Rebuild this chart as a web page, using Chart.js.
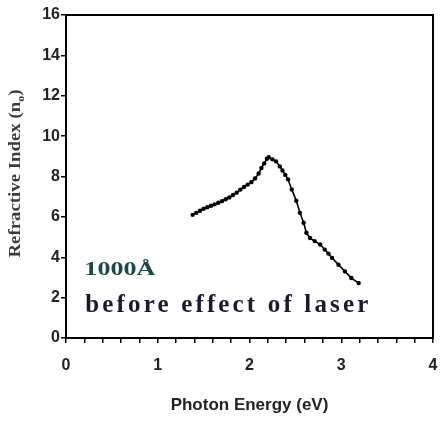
<!DOCTYPE html>
<html lang="en">
<head>
    <meta charset="UTF-8">
    <title>Refractive Index vs Photon Energy</title>
    <script src="https://cdn.jsdelivr.net/npm/chart.js"></script>
    <style>
        body { margin: 0; background: #fff; }
        #chart { display: block; }
    </style>
</head>
<body>
<canvas id="chart" width="441" height="421"></canvas>

<script>
    // values
    const energy = [1.38, 1.42, 1.46, 1.50, 1.54, 1.58, 1.62, 1.66, 1.70, 1.74, 1.78, 1.82, 1.86, 1.90,
        1.94, 1.98, 2.02, 2.06, 2.10, 2.13, 2.16, 2.19, 2.21, 2.25, 2.29, 2.33, 2.36, 2.39, 2.42, 2.46,
        2.51, 2.55, 2.59, 2.62, 2.66, 2.71, 2.77, 2.82, 2.86, 2.90, 2.97, 3.04, 3.11, 3.19];
    const refIndex = [6.10, 6.20, 6.30, 6.40, 6.48, 6.55, 6.62, 6.70, 6.78, 6.87, 6.96, 7.08, 7.20, 7.35,
        7.48, 7.60, 7.72, 7.90, 8.15, 8.42, 8.65, 8.88, 8.95, 8.85, 8.75, 8.50, 8.30, 8.08, 7.86, 7.36,
        6.80, 6.20, 5.71, 5.21, 4.95, 4.80, 4.63, 4.38, 4.18, 3.97, 3.63, 3.30, 2.97, 2.72];
    const xTickLabels = ['0', '1', '2', '3', '4'];
    const yTickLabels = ['0', '2', '4', '6', '8', '10', '12', '14', '16'];

    const labelFont = { family: 'Liberation Sans, Arial, sans-serif', size: 16, weight: 'bold' };

    // draws text squeezed/stretched to a given width
    function fitText(ctx, txt, x, y, width) {
        const w = ctx.measureText(txt).width;
        ctx.save();
        ctx.translate(x, y);
        ctx.scale(width / w, 1);
        ctx.fillText(txt, 0, 0);
        ctx.restore();
    }

    // box around plot + annotations + y title with subscript
    const extras = {
        id: 'extras',
        afterDraw(chart) {
            const ctx = chart.ctx;
            const a = chart.chartArea;
            ctx.save();
            ctx.strokeStyle = '#000';
            ctx.lineWidth = 2;
            ctx.strokeRect(a.left, a.top, a.right - a.left, a.bottom - a.top);

            // y axis title, about 168px long
            ctx.translate(16, (a.top + a.bottom) / 2 - 3);
            ctx.rotate(-Math.PI / 2);
            ctx.fillStyle = '#3a3a3a';
            ctx.textBaseline = 'middle';
            const big = 'bold 17px "Liberation Serif", serif';
            const small = 'bold 11px "Liberation Serif", serif';
            ctx.font = big;
            const p1 = 'Refractive Index (n';
            const p3 = ')';
            const w1 = ctx.measureText(p1).width;
            const w3 = ctx.measureText(p3).width;
            ctx.font = small;
            const w2 = ctx.measureText('o').width;
            const k = 168 / (w1 + w2 + w3);
            ctx.scale(k, 1);
            const x0 = -(w1 + w2 + w3) / 2;
            ctx.font = big;
            ctx.fillText(p1, x0, 0);
            ctx.font = small;
            ctx.fillText('o', x0 + w1, 5);
            ctx.font = big;
            ctx.fillText(p3, x0 + w1 + w2, 0);
            ctx.restore();

            // annotations
            ctx.save();
            const xs = chart.scales.x;
            const ys = chart.scales.y;
            ctx.textBaseline = 'alphabetic';
            ctx.fillStyle = '#1d4848';
            ctx.font = 'bold 19px "Liberation Serif", serif';
            fitText(ctx, '1000Å', xs.getPixelForValue(0.2), ys.getPixelForValue(3.1), 71);

            ctx.fillStyle = '#1a1a2e';
            ctx.font = 'bold 25px "Liberation Serif", serif';
            const txt = 'before effect of laser';
            const w = ctx.measureText(txt).width;
            ctx.letterSpacing = ((283 - w) / (txt.length - 1)) + 'px';
            ctx.fillText(txt, xs.getPixelForValue(0.21), ys.getPixelForValue(1.3));
            ctx.restore();
        }
    };

    new Chart(document.getElementById('chart'), {
        type: 'line',
        data: {
            datasets: [{
                data: energy.map((e, i) => ({ x: e, y: refIndex[i] })),
                borderColor: '#000',
                backgroundColor: '#000',
                borderWidth: 1.6,
                pointRadius: 2.2,
                pointBorderWidth: 0,
                tension: 0
            }]
        },
        options: {
            responsive: false,
            animation: false,
            layout: { padding: { top: 15, right: 8, left: 0, bottom: 0 } },
            plugins: { legend: { display: false }, tooltip: { enabled: false } },
            scales: {
                x: {
                    type: 'linear',
                    min: 0, max: 4,
                    afterFit: s => { s.height = 83; s.paddingRight = 0; s.paddingLeft = 0; },
                    afterBuildTicks: s => {
                        const t = [];
                        for (let i = 0; i <= 20; i++) t.push({ value: i / 5 });
                        s.ticks = t;
                    },
                    ticks: {
                        autoSkip: false,
                        maxRotation: 0,
                        padding: 13,
                        color: '#222',
                        font: labelFont,
                        callback: v => {
                            const k = Math.round(v);
                            return Math.abs(v - k) < 1e-6 ? xTickLabels[k] : '';
                        }
                    },
                    grid: { drawOnChartArea: false, drawTicks: true, tickLength: 5, color: '#000', lineWidth: 1.5 },
                    border: { display: true, color: '#000', width: 2 },
                    title: {
                        display: true,
                        text: 'Photon Energy (eV)',
                        color: '#222',
                        font: { family: 'Liberation Sans, Arial, sans-serif', size: 17, weight: 'bold' },
                        padding: { top: 0, bottom: 5 }
                    }
                },
                y: {
                    min: 0, max: 16,
                    afterFit: s => { s.width = 66; },
                    ticks: {
                        stepSize: 2,
                        padding: 1,
                        color: '#222',
                        font: labelFont,
                        callback: v => yTickLabels[Math.round(v / 2)]
                    },
                    grid: { drawOnChartArea: false, drawTicks: true, tickLength: 5, color: '#000', lineWidth: 1.5 },
                    border: { display: true, color: '#000', width: 2 }
                }
            }
        },
        plugins: [extras]
    });
</script>
</body>
</html>
